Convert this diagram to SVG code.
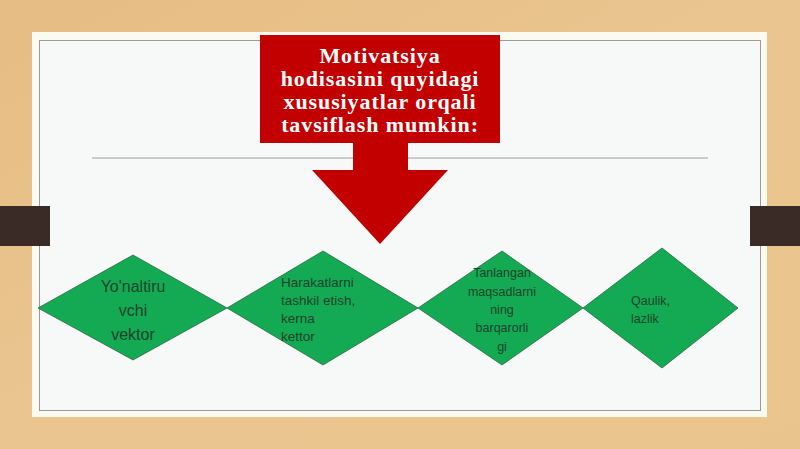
<svg xmlns="http://www.w3.org/2000/svg" width="800" height="449" viewBox="0 0 800 449">
<defs>
<linearGradient id="wood" x1="0" y1="0" x2="1" y2="1">
<stop offset="0" stop-color="#e6bd84"/>
<stop offset="0.5" stop-color="#eac58f"/>
<stop offset="1" stop-color="#e9c48c"/>
</linearGradient>
<style>
.dia{fill:#14aa54;stroke:#2a6a3e;stroke-width:0.8}
.dt{font-family:"Liberation Sans",Arial,sans-serif;fill:#1d4429}
.tt{font-family:"Liberation Serif","Times New Roman",serif;font-weight:bold;font-size:22px;letter-spacing:0.9px;fill:#ffffff;text-anchor:middle}
</style>
</defs>
<rect width="800" height="449" fill="url(#wood)"/>
<rect x="32" y="32" width="735" height="385" fill="#fbfaf1"/>
<rect x="39.5" y="40.5" width="721" height="370" fill="#f7f8f8" stroke="#9a9a98" stroke-width="1"/>
<rect x="0" y="206" width="50" height="40" fill="#3b2b26"/>
<rect x="750" y="206" width="50" height="40" fill="#3b2b26"/>
<line x1="92" y1="158" x2="708" y2="158" stroke="#a0a09c" stroke-width="1"/>
<g id="title">
<rect x="260" y="35" width="240" height="108" fill="#c20000"/>
<polygon points="353,142 408,142 408,170 448,170 380,244 312,170 353,170" fill="#c20000"/>
<text class="tt" x="380" y="63">Motivatsiya</text>
<text class="tt" x="380" y="86">hodisasini quyidagi</text>
<text class="tt" x="380" y="109">xususiyatlar orqali</text>
<text class="tt" x="380" y="132">tavsiflash mumkin:</text>
</g>
<g id="connectors"></g>
<g id="node1">
<polygon class="dia" points="133,255 227,308 133,360 38,308"/>
<text class="dt" font-size="16" text-anchor="middle"><tspan x="133" y="292">Yo'naltiru</tspan><tspan x="133" y="316">vchi</tspan><tspan x="133" y="340">vektor</tspan></text>
</g>
<g id="node2">
<polygon class="dia" points="323,251 418,308 323,365 227,308"/>
<text class="dt" font-size="13.5"><tspan x="281" y="287">Harakatlarni</tspan><tspan x="281" y="305">tashkil etish,</tspan><tspan x="281" y="323">kerna</tspan><tspan x="281" y="341">kettor</tspan></text>
</g>
<g id="node3">
<polygon class="dia" points="502,251 583,308 502,365 418,308"/>
<text class="dt" font-size="12.5" text-anchor="middle"><tspan x="502" y="277">Tanlangan</tspan><tspan x="502" y="296">maqsadlarni</tspan><tspan x="502" y="314">ning</tspan><tspan x="502" y="332">barqarorli</tspan><tspan x="502" y="351">gi</tspan></text>
</g>
<g id="node4">
<polygon class="dia" points="662,248 738,308 662,368 583,308"/>
<text class="dt" font-size="12.5"><tspan x="631" y="305">Qaulik,</tspan><tspan x="631" y="323">lazlik</tspan></text>
</g>
</svg>
